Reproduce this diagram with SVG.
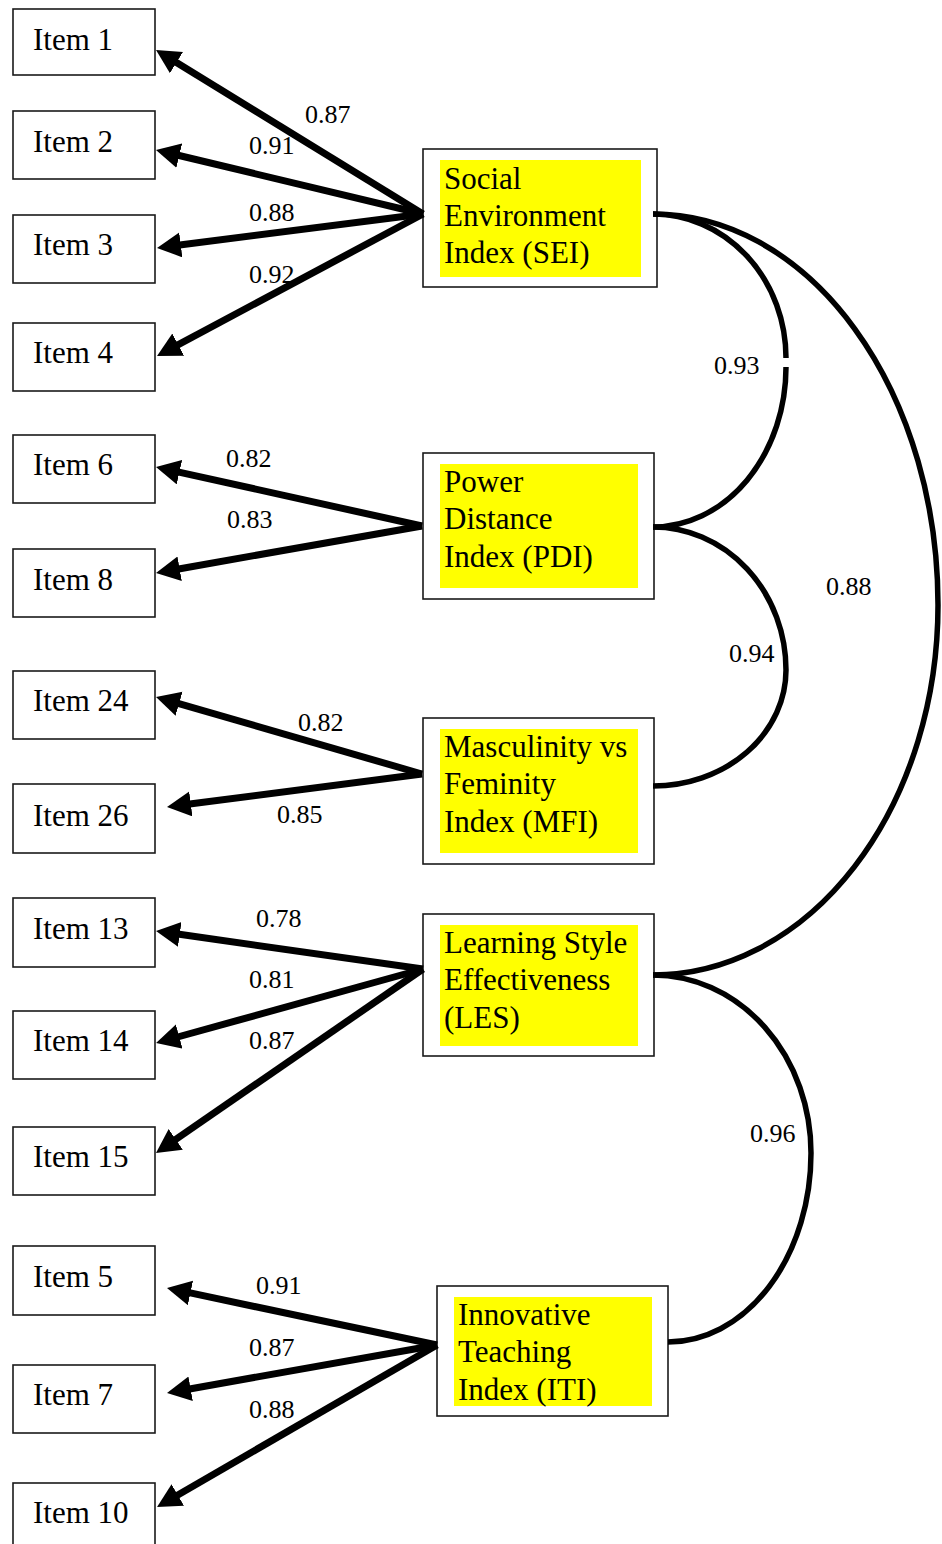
<svg xmlns="http://www.w3.org/2000/svg" width="942" height="1544" viewBox="0 0 942 1544">
  <style>
    .item rect { fill: #fff; stroke: #1a1a1a; stroke-width: 1.6; }
    .latent .frame { fill: #fff; stroke: #1a1a1a; stroke-width: 1.6; }
    .latent .hl { fill: #ffff00; stroke: none; }
    text { font-family: "Liberation Serif", "Times New Roman", serif; fill: #000; }
    .t { font-size: 31px; }
    .lbl { font-size: 26px; }
    .load { stroke: #000; stroke-width: 7; fill: none; marker-end: url(#head); }
    .cov { stroke: #000; stroke-width: 5.5; fill: none; }
  </style>
  <defs>
    <marker id="head" markerUnits="userSpaceOnUse" markerWidth="26" markerHeight="26" refX="11" refY="12.5" orient="auto">
      <path d="M0,0 L24,12.5 L0,25 z" fill="#000"/>
    </marker>
  </defs>
  <rect width="942" height="1544" fill="#fff"/>

  <!-- observed items -->
  <g id="item1" class="item"><rect x="13" y="9" width="142" height="66"/><text class="t" x="33" y="50">Item 1</text></g>
  <g id="item2" class="item"><rect x="13" y="111" width="142" height="68"/><text class="t" x="33" y="152">Item 2</text></g>
  <g id="item3" class="item"><rect x="13" y="215" width="142" height="68"/><text class="t" x="33" y="255">Item 3</text></g>
  <g id="item4" class="item"><rect x="13" y="323" width="142" height="68"/><text class="t" x="33" y="363">Item 4</text></g>
  <g id="item6" class="item"><rect x="13" y="435" width="142" height="68"/><text class="t" x="33" y="475">Item 6</text></g>
  <g id="item8" class="item"><rect x="13" y="549" width="142" height="68"/><text class="t" x="33" y="590">Item 8</text></g>
  <g id="item24" class="item"><rect x="13" y="671" width="142" height="68"/><text class="t" x="33" y="711">Item 24</text></g>
  <g id="item26" class="item"><rect x="13" y="784" width="142" height="69"/><text class="t" x="33" y="826">Item 26</text></g>
  <g id="item13" class="item"><rect x="13" y="898" width="142" height="69"/><text class="t" x="33" y="939">Item 13</text></g>
  <g id="item14" class="item"><rect x="13" y="1011" width="142" height="68"/><text class="t" x="33" y="1051">Item 14</text></g>
  <g id="item15" class="item"><rect x="13" y="1127" width="142" height="68"/><text class="t" x="33" y="1167">Item 15</text></g>
  <g id="item5" class="item"><rect x="13" y="1246" width="142" height="69"/><text class="t" x="33" y="1287">Item 5</text></g>
  <g id="item7" class="item"><rect x="13" y="1365" width="142" height="68"/><text class="t" x="33" y="1405">Item 7</text></g>
  <g id="item10" class="item"><rect x="13" y="1483" width="142" height="68"/><text class="t" x="33" y="1523">Item 10</text></g>

  <!-- latent factors -->
  <g id="sei" class="latent">
    <rect class="frame" x="423" y="149" width="234" height="138"/>
    <rect class="hl" x="440" y="160" width="201" height="117"/>
    <text class="t" x="444" y="189">Social</text>
    <text class="t" x="444" y="226">Environment</text>
    <text class="t" x="444" y="263">Index (SEI)</text>
  </g>
  <g id="pdi" class="latent">
    <rect class="frame" x="423" y="453" width="231" height="146"/>
    <rect class="hl" x="440" y="464" width="198" height="124"/>
    <text class="t" x="444" y="492">Power</text>
    <text class="t" x="444" y="529">Distance</text>
    <text class="t" x="444" y="567">Index (PDI)</text>
  </g>
  <g id="mfi" class="latent">
    <rect class="frame" x="423" y="718" width="231" height="146"/>
    <rect class="hl" x="440" y="729" width="198" height="124"/>
    <text class="t" x="444" y="757">Masculinity vs</text>
    <text class="t" x="444" y="794">Feminity</text>
    <text class="t" x="444" y="832">Index (MFI)</text>
  </g>
  <g id="les" class="latent">
    <rect class="frame" x="423" y="914" width="231" height="142"/>
    <rect class="hl" x="440" y="925" width="198" height="121"/>
    <text class="t" x="444" y="953">Learning Style</text>
    <text class="t" x="444" y="990">Effectiveness</text>
    <text class="t" x="444" y="1028">(LES)</text>
  </g>
  <g id="iti" class="latent">
    <rect class="frame" x="437" y="1286" width="231" height="130"/>
    <rect class="hl" x="454" y="1297" width="198" height="109"/>
    <text class="t" x="458" y="1325">Innovative</text>
    <text class="t" x="458" y="1362">Teaching</text>
    <text class="t" x="458" y="1400">Index (ITI)</text>
  </g>

  <!-- loadings and correlations -->
  <g id="connectors">
    <line class="load" x1="423" y1="214" x2="167.1" y2="56.8"/>
    <line class="load" x1="423" y1="214" x2="168.6" y2="153.0"/>
    <line class="load" x1="423" y1="214" x2="169.9" y2="246.3"/>
    <line class="load" x1="423" y1="214" x2="168.5" y2="349.8"/>

    <line class="load" x1="422" y1="526" x2="168.7" y2="469.8"/>
    <line class="load" x1="422" y1="526" x2="168.8" y2="570.7"/>

    <line class="load" x1="422" y1="774" x2="168.5" y2="700.6"/>
    <line class="load" x1="422" y1="774" x2="179.9" y2="805.3"/>

    <line class="load" x1="423" y1="969" x2="168.9" y2="932.8"/>
    <line class="load" x1="423" y1="969" x2="168.6" y2="1039.5"/>
    <line class="load" x1="423" y1="969" x2="166.7" y2="1145.6"/>

    <line class="load" x1="437" y1="1345" x2="179.7" y2="1290.7"/>
    <line class="load" x1="437" y1="1345" x2="179.8" y2="1390.7"/>
    <line class="load" x1="437" y1="1345" x2="168.3" y2="1500.5"/>

    <!-- SEI-PDI -->
    <path class="cov" d="M653,214 A133,144 0 0 1 786,358"/>
    <path class="cov" d="M786,367 A133,160 0 0 1 653,527"/>
    <!-- SEI-LES -->
    <path class="cov" d="M653,214 A285,391 0 0 1 938,605 A285,370 0 0 1 653,975"/>
    <!-- PDI-MFI -->
    <path class="cov" d="M653,527 A133,143 0 0 1 786,670 A133,116 0 0 1 653,786"/>
    <!-- LES-ITI -->
    <path class="cov" d="M653,975 A158,178 0 0 1 811,1153 A143,189 0 0 1 668,1342"/>
  </g>

  <!-- coefficients -->
  <g id="labels">
    <text class="lbl" x="305" y="123">0.87</text>
    <text class="lbl" x="249" y="154">0.91</text>
    <text class="lbl" x="249" y="221">0.88</text>
    <text class="lbl" x="249" y="283">0.92</text>
    <text class="lbl" x="226" y="467">0.82</text>
    <text class="lbl" x="227" y="528">0.83</text>
    <text class="lbl" x="298" y="731">0.82</text>
    <text class="lbl" x="277" y="823">0.85</text>
    <text class="lbl" x="256" y="927">0.78</text>
    <text class="lbl" x="249" y="988">0.81</text>
    <text class="lbl" x="249" y="1049">0.87</text>
    <text class="lbl" x="256" y="1294">0.91</text>
    <text class="lbl" x="249" y="1356">0.87</text>
    <text class="lbl" x="249" y="1418">0.88</text>
    <text class="lbl" x="714" y="374">0.93</text>
    <text class="lbl" x="729" y="662">0.94</text>
    <text class="lbl" x="826" y="595">0.88</text>
    <text class="lbl" x="750" y="1142">0.96</text>
  </g>
</svg>
